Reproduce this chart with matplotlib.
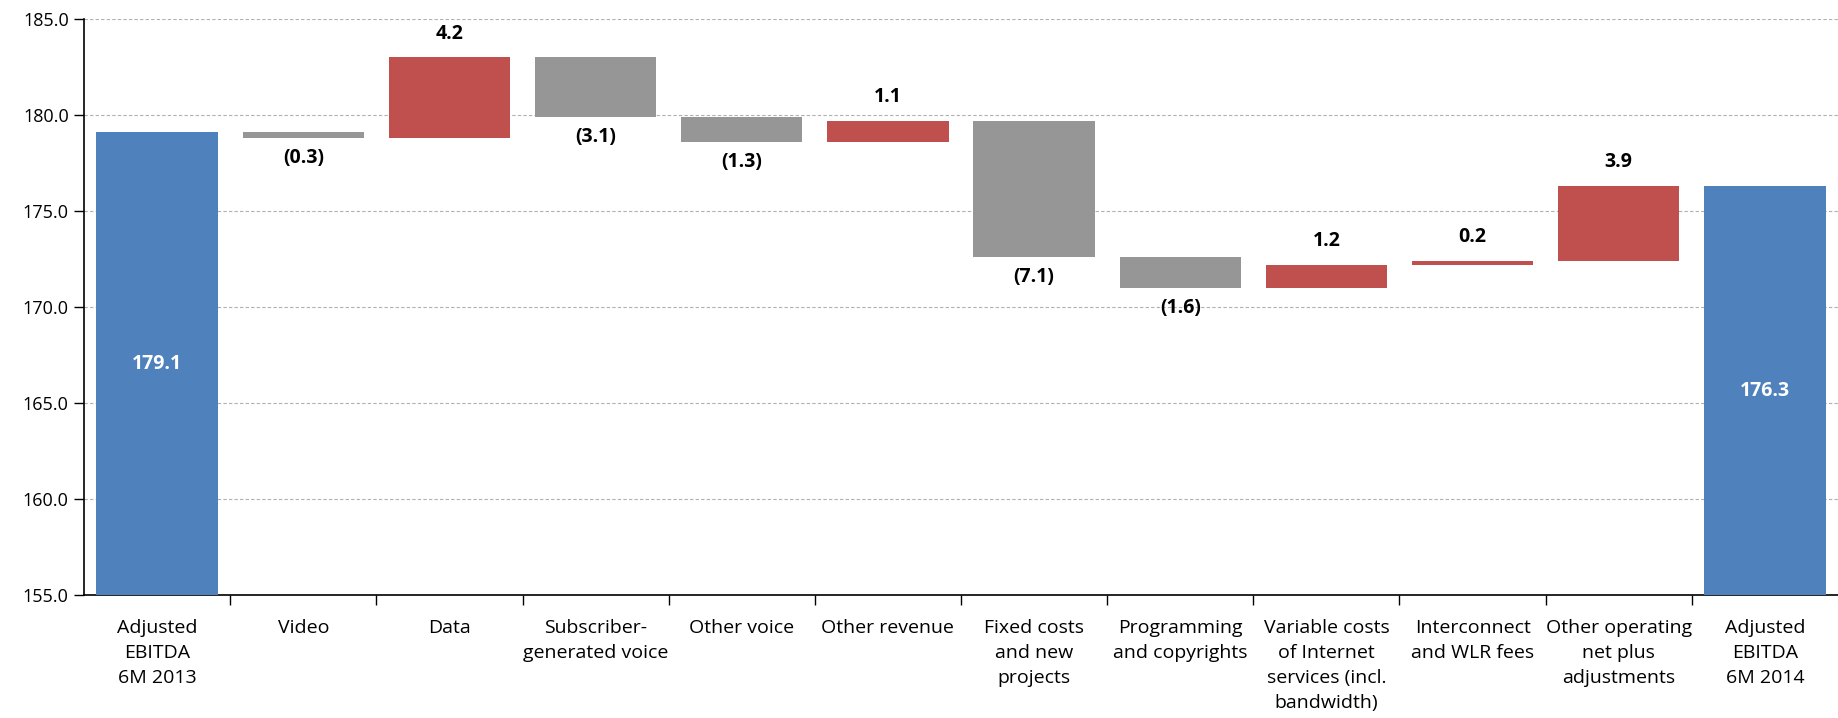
import numpy as np
import matplotlib
matplotlib.use("Agg")
import matplotlib.pyplot as plt
from matplotlib.ticker import FixedLocator

categories = ["Adjusted\nEBITDA\n6M 2013", "Video", "Data", "Subscriber-\ngenerated voice",
              "Other voice", "Other revenue", "Fixed costs\nand new\nprojects",
              "Programming\nand copyrights", "Variable costs\nof Internet\nservices (incl.\nbandwidth)",
              "Interconnect\nand WLR fees", "Other operating\nnet plus\nadjustments",
              "Adjusted\nEBITDA\n6M 2014"]
start_total = 179.1
deltas = [-0.3, 4.2, -3.1, -1.3, 1.1, -7.1, -1.6, 1.2, 0.2, 3.9]
end_total = 176.3
yticks = [155.0, 160.0, 165.0, 170.0, 175.0, 180.0, 185.0]

BLUE = "#4F81BD"
RED = "#C0504D"
GREY = "#969696"

plt.rcParams["font.family"] = ["Open Sans", "DejaVu Sans"]

fig = plt.figure(figsize=(18.38, 7.18), dpi=100)
ax = fig.add_axes([84 / 1838, 1 - 595 / 718, 1 - 84 / 1838, (595 - 19) / 718])

x = np.arange(len(categories))
w = 0.83

# totals
ax.bar(x[0], start_total, width=w, color=BLUE, zorder=3)
ax.bar(x[-1], end_total, width=w, color=BLUE, zorder=3)
for xi, v in [(x[0], start_total), (x[-1], end_total)]:
    ax.text(xi, (155 + v) / 2, f"{v:.1f}", ha="center", va="center",
            color="white", fontsize=14, fontweight="bold", zorder=4)

# steps
level = start_total
for i, d in enumerate(deltas):
    xi = x[i + 1]
    lo = level if d >= 0 else level + d
    ax.bar(xi, abs(d), bottom=lo, width=w, color=RED if d >= 0 else GREY, zorder=3)
    if d >= 0:
        ax.annotate(f"{d:.1f}", (xi, lo + abs(d)), xytext=(0, 10), textcoords="offset points",
                    ha="center", va="bottom", fontsize=14, fontweight="bold")
    else:
        ax.annotate(f"({abs(d):.1f})", (xi, lo), xytext=(0, -7), textcoords="offset points",
                    ha="center", va="top", fontsize=14, fontweight="bold")
    level += d

ax.set_xlim(-0.5, len(categories) - 0.5)
ax.set_ylim(155, 185)
ax.set_yticks(yticks)
ax.set_yticklabels([f"{t:.1f}" for t in yticks], fontsize=13)
ax.yaxis.grid(True, linestyle=(0, (3, 2)), color="#b0b0b0", linewidth=0.8, zorder=0)
ax.tick_params(axis="y", length=7, width=1, direction="out", pad=4)

ax.set_xticks(x)
ax.set_xticklabels(categories, fontsize=14, linespacing=1.52, va="top")
ax.tick_params(axis="x", which="major", length=0, pad=17)
ax.xaxis.set_minor_locator(FixedLocator(np.arange(0.5, len(categories) - 0.5, 1.0)))
ax.tick_params(axis="x", which="minor", length=7, width=1, direction="out")

for s in ["top", "right"]:
    ax.spines[s].set_visible(False)
ax.spines["left"].set_linewidth(1.2)
ax.spines["bottom"].set_linewidth(1.2)

fig.savefig("out.png", dpi=100)
